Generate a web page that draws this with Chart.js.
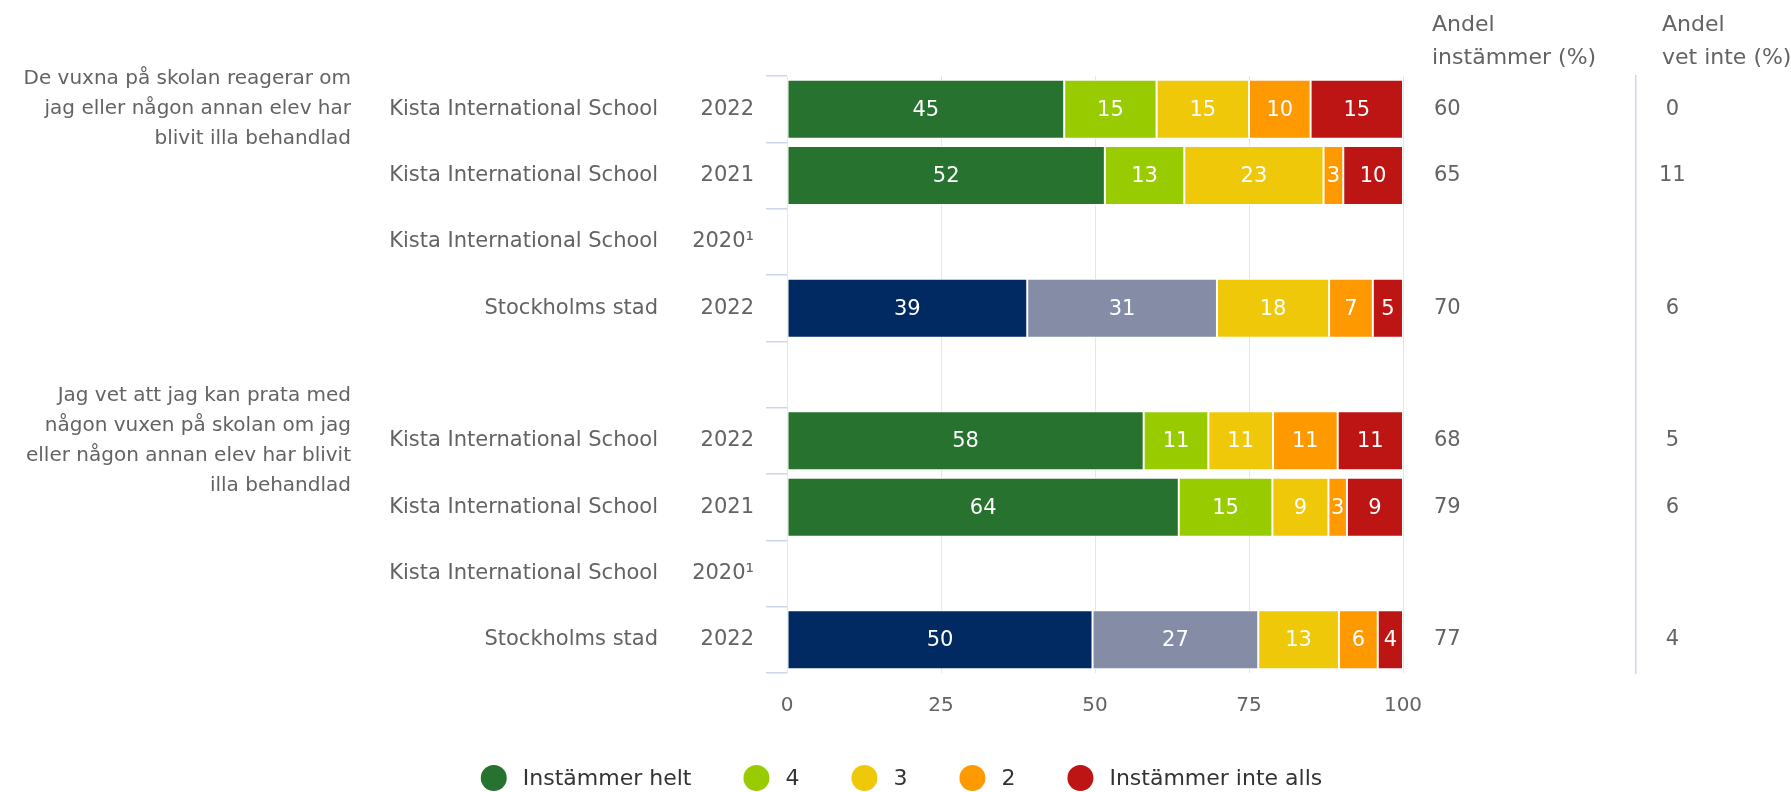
<!DOCTYPE html>
<html>
<head>
<meta charset="utf-8">
<script src="https://cdn.jsdelivr.net/npm/chart.js@4.4.1/dist/chart.umd.min.js"></script>
<style>
  html, body { margin: 0; padding: 0; background: #fff; }
  #wrap { width: 1791px; height: 792px; }
</style>
</head>
<body>
<div id="wrap"><canvas id="chart"></canvas></div>
<script>
// Rows top to bottom, index 4 is the empty gap between the two questions
const schools = ['Kista International School', 'Kista International School', 'Kista International School', 'Stockholms stad', '',
                 'Kista International School', 'Kista International School', 'Kista International School', 'Stockholms stad'];
const years = ['2022', '2021', '2020¹', '2022', '', '2022', '2021', '2020¹', '2022'];
const questions = [
  ['De vuxna på skolan reagerar om', 'jag eller någon annan elev har', 'blivit illa behandlad'], '', '', '', '',
  ['Jag vet att jag kan prata med', 'någon vuxen på skolan om jag', 'eller någon annan elev har blivit', 'illa behandlad'], '', '', ''
];
const isCity = [false, false, false, true, false, false, false, false, true];

// Shares in percent (the labels show them rounded)
const seriesNames = ['Instämmer helt', '4', '3', '2', 'Instämmer inte alls'];
const instammerHelt = [45, 51.6, null, 39.0, null, 57.9, 63.6, null, 49.6];
const svar4 = [15, 12.9, null, 30.8, null, 10.5, 15.2, null, 26.9];
const svar3 = [15, 22.6, null, 18.2, null, 10.5, 9.1, null, 13.1];
const svar2 = [10, 3.2, null, 7.1, null, 10.5, 3.0, null, 6.3];
const instammerInteAlls = [15, 9.7, null, 4.9, null, 10.6, 9.1, null, 4.1];

// Right hand columns
const andelInstammer = ['60', '65', '', '70', '', '68', '79', '', '77'];
const andelVetInte = ['0', '11', '', '6', '', '5', '6', '', '4'];

const xTicks = [0, 25, 50, 75, 100];

const FONT = '"DejaVu Sans"';
const GREY = '#636363';

const green = '#26722e', navy = '#002a61';
const lightGreen = '#99cc00', slate = '#858da6';
const yellow = '#f0c80a', orange = '#ff9900', red = '#bd1414';

const makeSet = (label, data, colors) => ({
  label: label,
  data: data,
  backgroundColor: colors,
  borderColor: '#ffffff',
  borderWidth: 1,
  borderSkipped: false,
  barPercentage: 0.89,
  categoryPercentage: 1.0,
  legendColor: Array.isArray(colors) ? colors[0] : colors
});

const datasets = [
  makeSet(seriesNames[0], instammerHelt, isCity.map(c => c ? navy : green)),
  makeSet(seriesNames[1], svar4, isCity.map(c => c ? slate : lightGreen)),
  makeSet(seriesNames[2], svar3, yellow),
  makeSet(seriesNames[3], svar2, orange),
  makeSet(seriesNames[4], instammerInteAlls, red)
];

// White value labels inside the bar segments
const barLabels = {
  id: 'barLabels',
  afterDatasetsDraw(chart) {
    const ctx = chart.ctx;
    ctx.save();
    ctx.font = '21px ' + FONT;
    ctx.fillStyle = '#ffffff';
    ctx.textAlign = 'center';
    ctx.textBaseline = 'middle';
    chart.data.datasets.forEach((ds, i) => {
      chart.getDatasetMeta(i).data.forEach((bar, j) => {
        const v = ds.data[j];
        if (v == null) return;
        ctx.fillText(String(Math.round(v)), (bar.x + bar.base) / 2, bar.y + 1);
      });
    });
    ctx.restore();
  }
};

// Column headers above the right hand columns
const columnHeaders = {
  id: 'columnHeaders',
  afterDraw(chart) {
    const ctx = chart.ctx;
    ctx.save();
    ctx.font = '22px ' + FONT;
    ctx.fillStyle = GREY;
    ctx.textAlign = 'left';
    ctx.textBaseline = 'middle';
    const cols = [
      [chart.scales.yAndel, 29, ['Andel', 'instämmer (%)']],
      [chart.scales.yVetInte, 26, ['Andel', 'vet inte (%)']]
    ];
    cols.forEach(([scale, indent, lines]) => {
      lines.forEach((t, k) => ctx.fillText(t, scale.left + indent, 25 + k * 33));
    });
    ctx.restore();
  }
};

// Legend with big round markers
const roundLegend = {
  id: 'roundLegend',
  afterDraw(chart) {
    const ctx = chart.ctx;
    ctx.save();
    ctx.font = '22px ' + FONT;
    ctx.textBaseline = 'middle';
    ctx.textAlign = 'left';
    const r = 13, textGap = 16, itemGap = 52, y = 778;
    const items = chart.data.datasets.map(ds => ({ text: ds.label, color: ds.legendColor, w: ctx.measureText(ds.label).width }));
    const total = items.reduce((s, it) => s + 2 * r + textGap + it.w, 0) + itemGap * (items.length - 1);
    let x = chart.width / 2 - total / 2 + 6;
    items.forEach(it => {
      ctx.fillStyle = it.color;
      ctx.beginPath();
      ctx.arc(x + r, y, r, 0, Math.PI * 2);
      ctx.fill();
      ctx.fillStyle = '#333333';
      ctx.fillText(it.text, x + 2 * r + textGap, y + 1);
      x += 2 * r + textGap + it.w + itemGap;
    });
    ctx.restore();
  }
};

const fixWidth = w => scale => { scale.width = w; };

const textAxis = (labels, position, weight, width, size, padding, extra) => Object.assign({
  type: 'category',
  position: position,
  weight: weight,
  labels: labels,
  offset: true,
  afterFit: fixWidth(width),
  grid: { display: false, drawTicks: false },
  border: { display: false },
  ticks: { color: GREY, font: { family: FONT, size: size }, padding: padding, autoSkip: false }
}, extra || {});

new Chart(document.getElementById('chart').getContext('2d'), {
  type: 'bar',
  data: { labels: years, datasets: datasets },
  options: {
    indexAxis: 'y',
    responsive: true,
    maintainAspectRatio: false,
    animation: false,
    layout: { padding: { top: 76, left: 0, right: 0, bottom: 0 } },
    plugins: {
      legend: { display: false },
      tooltip: {
        callbacks: {
          label: item => `${item.dataset.label}: ${Math.round(item.raw)} %`
        }
      }
    },
    scales: {
      x: {
        stacked: true,
        min: 0,
        max: 100,
        afterBuildTicks: scale => { scale.ticks = xTicks.map(v => ({ value: v })); },
        afterFit: scale => { scale.height = 119; },
        grid: { color: '#e6e6e6', drawTicks: false },
        border: { display: false },
        ticks: { color: GREY, font: { family: FONT, size: 20 }, padding: 21 }
      },
      y: {
        stacked: true,
        weight: 0,
        afterFit: fixWidth(96),
        grid: { drawOnChartArea: false, drawTicks: true, tickLength: 21, color: '#ccd6eb', lineWidth: 1.5 },
        border: { display: false },
        ticks: { color: GREY, font: { family: FONT, size: 21 }, padding: 12, autoSkip: false }
      },
      yName: textAxis(schools, 'left', 1, 321, 21, 33),
      yQuestion: textAxis(questions, 'left', 2, 370, 20, 19, {
        ticks: { color: GREY, font: { family: FONT, size: 20, lineHeight: 1.5 }, padding: 19, autoSkip: false }
      }),
      yAndel: textAxis(andelInstammer, 'right', 0, 233, 21, 31, {
        ticks: { color: GREY, font: { family: FONT, size: 21 }, padding: 31, crossAlign: 'center', autoSkip: false }
      }),
      yVetInte: textAxis(andelVetInte, 'right', 1, 155, 21, 23, {
        ticks: { color: GREY, font: { family: FONT, size: 21 }, padding: 23, crossAlign: 'center', autoSkip: false },
        border: { display: true, color: '#ccd6eb', width: 1.5 }
      })
    }
  },
  plugins: [barLabels, columnHeaders, roundLegend]
});
</script>
</body>
</html>
